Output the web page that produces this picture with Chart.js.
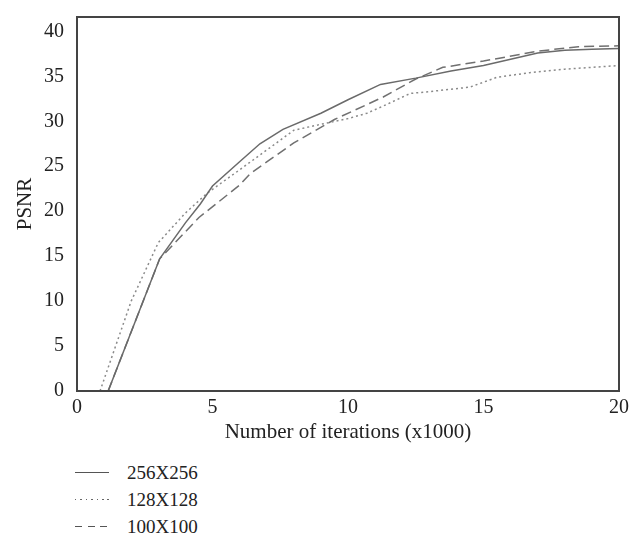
<!DOCTYPE html>
<html>
<head>
<meta charset="utf-8">
<script src="https://cdn.jsdelivr.net/npm/chart.js@4/dist/chart.umd.min.js"></script>
<style>
  body { margin: 0; background: #fff; }
  #wrap { position: relative; width: 631px; height: 539px; }
  #legend { position: absolute; left: 75px; top: 459px; font-family: "Liberation Serif", serif; font-size: 19px; color: #222; }
  .item { display: flex; align-items: center; height: 27px; }
  .sample { width: 34px; height: 1.5px; margin-right: 18px; }
</style>
</head>
<body>
<div id="wrap">
  <canvas id="psnrChart" width="631" height="450"></canvas>
  <div id="legend"></div>
</div>
<script>
// Iterations (x1000) and PSNR
const x256 = [1.15, 3.05, 4.0, 4.55, 5.0, 6.0, 6.75, 7.6, 9.0, 10.0, 11.2, 12.5, 13.8, 15.0, 16.0, 17.0, 18.0, 19.0, 20.0];
const psnr256 = [0, 14.7, 18.7, 20.8, 22.8, 25.5, 27.5, 29.1, 30.9, 32.4, 34.1, 34.8, 35.6, 36.2, 36.9, 37.6, 37.9, 38.0, 38.1];

const x128 = [0.85, 2.0, 3.0, 4.0, 4.8, 6.0, 7.0, 8.0, 8.9, 10.0, 10.7, 11.3, 12.3, 13.0, 14.5, 15.5, 16.7, 18.0, 20.0];
const psnr128 = [0, 10.0, 16.5, 19.8, 22.0, 24.6, 26.8, 29.0, 29.6, 30.3, 30.9, 31.7, 33.1, 33.3, 33.8, 34.9, 35.4, 35.8, 36.2];

const x100 = [1.15, 3.05, 4.5, 6.0, 6.4, 8.0, 9.5, 11.3, 12.5, 13.5, 15.0, 17.0, 18.5, 20.0];
const psnr100 = [0, 14.7, 19.3, 22.9, 24.2, 27.6, 30.2, 32.7, 34.7, 36.0, 36.7, 37.8, 38.3, 38.4];

const xTicks = [0, 5, 10, 15, 20];
const yTicks = [0, 5, 10, 15, 20, 25, 30, 35, 40];

function pts(xs, ys) {
    return xs.map(function (v, i) { return { x: v, y: ys[i] }; });
}

const seriesList = [
    { label: '256X256', data: pts(x256, psnr256), color: '#6a6a6a', dash: [],
      sample: '#555' },
    { label: '128X128', data: pts(x128, psnr128), color: '#8a8a8a', dash: [2, 3],
      sample: 'repeating-linear-gradient(to right, #666 0 1.5px, transparent 1.5px 5.4px)' },
    { label: '100X100', data: pts(x100, psnr100), color: '#707070', dash: [10, 5],
      sample: 'repeating-linear-gradient(to right, #555 0 7px, transparent 7px 12.5px)' }
];

const fontFamily = '"Liberation Serif", serif';

// Box around the plot area
const frame = {
    id: 'frame',
    afterDraw(chart) {
        const a = chart.chartArea;
        const ctx = chart.ctx;
        ctx.save();
        ctx.strokeStyle = '#444';
        ctx.lineWidth = 2;
        ctx.strokeRect(a.left, a.top, a.right - a.left, a.bottom - a.top);
        ctx.restore();
    }
};

const ctx = document.getElementById('psnrChart').getContext('2d');
const psnrChart = new Chart(ctx, {
    type: 'line',
    data: {
        datasets: seriesList.map(function (s) {
            return {
                label: s.label,
                data: s.data,
                borderColor: s.color,
                borderDash: s.dash,
                borderWidth: 1.5,
                pointRadius: 0,
                tension: 0,
                fill: false
            };
        })
    },
    options: {
        responsive: false,
        animation: false,
        layout: { padding: { top: 9, right: 12, bottom: 4, left: 0 } },
        plugins: {
            legend: { display: false },
            tooltip: { enabled: false }
        },
        scales: {
            x: {
                type: 'linear',
                min: 0,
                max: 20,
                grid: { display: false },
                border: { display: false },
                afterBuildTicks: function (scale) {
                    scale.ticks = xTicks.map(function (v) { return { value: v }; });
                },
                afterFit: function (scale) { scale.height = 55; },
                ticks: { color: '#222', padding: -3, maxRotation: 0, font: { family: fontFamily, size: 20 } },
                title: {
                    display: true,
                    text: 'Number of iterations (x1000)',
                    color: '#222',
                    padding: { top: 0, bottom: 1 },
                    font: { family: fontFamily, size: 21 }
                }
            },
            y: {
                min: 0,
                max: 41.6,
                grid: { display: false },
                border: { display: false },
                afterBuildTicks: function (scale) {
                    scale.ticks = yTicks.map(function (v) { return { value: v }; });
                },
                afterFit: function (scale) { scale.width = 77; },
                ticks: { color: '#222', padding: 5, font: { family: fontFamily, size: 20 } },
                title: {
                    display: true,
                    text: 'PSNR',
                    color: '#222',
                    padding: { top: 13, bottom: 0 },
                    font: { family: fontFamily, size: 21 }
                }
            }
        }
    },
    plugins: [frame]
});

// Legend below the chart, one entry per line
const legend = document.getElementById('legend');
seriesList.forEach(function (s) {
    const item = document.createElement('div');
    item.className = 'item';
    const sample = document.createElement('span');
    sample.className = 'sample';
    sample.style.background = s.sample;
    const text = document.createElement('span');
    text.textContent = s.label;
    item.appendChild(sample);
    item.appendChild(text);
    legend.appendChild(item);
});
</script>
</body>
</html>
